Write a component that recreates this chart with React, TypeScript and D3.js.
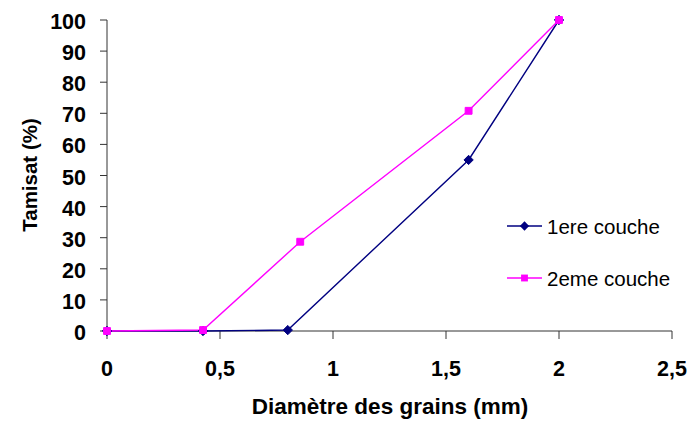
import { useEffect, useRef } from "react"
import * as d3 from "d3"

const seriesNames = ["1ere couche", "2eme couche"]
const seriesColors = ["#000080", "#FF00FF"]
const diam1 = [0, 0.425, 0.8, 1.6, 2]
const tamisat1 = [0, 0, 0.3, 55, 100]
const diam2 = [0, 0.425, 0.855, 1.6, 2]
const tamisat2 = [0, 0.3, 28.7, 70.8, 100]
const xTicks = [0, 0.5, 1, 1.5, 2, 2.5]
const yTicks = [0, 10, 20, 30, 40, 50, 60, 70, 80, 90, 100]

const W = 691
const H = 421

export default function App() {
  const svgRef = useRef<SVGSVGElement>(null)

  useEffect(() => {
    const svg = d3.select(svgRef.current)
    svg.selectAll("*").remove()

    const x = d3.scaleLinear().domain([0, 2.5]).range([107, 672])
    const y = d3.scaleLinear().domain([0, 100]).range([331, 20])
    const font = "Arial, 'Liberation Sans', sans-serif"

    // axes
    const g = svg.append("g")
    g.append("line").attr("x1", x(0)).attr("x2", x(0)).attr("y1", y(0)).attr("y2", y(100))
      .attr("stroke", "#333").attr("stroke-width", 1)
    g.append("line").attr("x1", x(0)).attr("x2", x(2.5)).attr("y1", y(0)).attr("y2", y(0))
      .attr("stroke", "#333").attr("stroke-width", 1)

    yTicks.forEach((t) => {
      g.append("line").attr("x1", x(0) - 7).attr("x2", x(0)).attr("y1", y(t)).attr("y2", y(t))
        .attr("stroke", "#333")
      g.append("text").attr("x", 86).attr("y", y(t) + 9).attr("text-anchor", "end")
        .attr("font-family", font).attr("font-weight", "bold").attr("font-size", 21.5)
        .text(t)
    })
    xTicks.forEach((t) => {
      g.append("line").attr("x1", x(t)).attr("x2", x(t)).attr("y1", y(0)).attr("y2", y(0) + 8)
        .attr("stroke", "#333")
      g.append("text").attr("x", x(t)).attr("y", 376).attr("text-anchor", "middle")
        .attr("font-family", font).attr("font-weight", "bold").attr("font-size", 21.5)
        .text(String(t).replace(".", ","))
    })

    g.append("text").attr("x", 390).attr("y", 414).attr("text-anchor", "middle")
      .attr("font-family", font).attr("font-weight", "bold").attr("font-size", 22.5)
      .text("Diamètre des grains (mm)")
    g.append("text").attr("transform", "translate(37,175) rotate(-90)").attr("text-anchor", "middle")
      .attr("font-family", font).attr("font-weight", "bold").attr("font-size", 20.5)
      .text("Tamisat (%)")

    const line = d3.line<[number, number]>().x((d) => x(d[0])).y((d) => y(d[1]))
    const series: [number, number][][] = [
      diam1.map((d, i) => [d, tamisat1[i]]),
      diam2.map((d, i) => [d, tamisat2[i]]),
    ]
    const diamond = d3.symbol().type(d3.symbolDiamond2).size(55)
    const square = d3.symbol().type(d3.symbolSquare2).size(60)
    const shapes = [diamond, square]

    series.forEach((pts, k) => {
      g.append("path").datum(pts).attr("fill", "none").attr("stroke", seriesColors[k])
        .attr("stroke-width", 1.4).attr("d", line)
    })
    series.forEach((pts, k) => {
      g.selectAll(null).data(pts).enter().append("path")
        .attr("transform", (d) => `translate(${x(d[0])},${y(d[1])})`)
        .attr("d", shapes[k]() as string)
        .attr("fill", seriesColors[k]).attr("stroke", seriesColors[k]).attr("stroke-width", 1)
    })

    // legend
    const legendY = [226, 278]
    seriesNames.forEach((name, k) => {
      g.append("line").attr("x1", 507).attr("x2", 542).attr("y1", legendY[k]).attr("y2", legendY[k])
        .attr("stroke", seriesColors[k]).attr("stroke-width", 1.4)
      g.append("path").attr("transform", `translate(524.5,${legendY[k]})`)
        .attr("d", shapes[k]() as string).attr("fill", seriesColors[k])
      g.append("text").attr("x", 547).attr("y", legendY[k] + 7.5)
        .attr("font-family", font).attr("font-size", 20.5).text(name)
    })
  }, [])

  return (
    <svg
      ref={svgRef}
      width={W}
      height={H}
      style={{ position: "absolute", left: 0, top: 0, background: "#fff" }}
    />
  )
}
